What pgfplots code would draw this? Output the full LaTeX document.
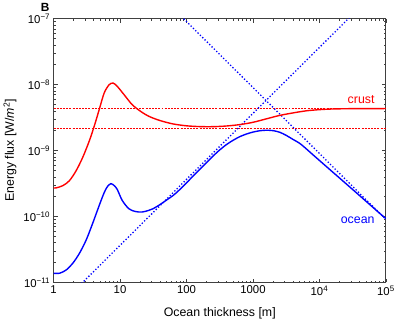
\documentclass[border=0pt]{standalone}
\usepackage{fontspec}
\setmainfont{Liberation Sans}
\usepackage{pgfplots}
\pgfplotsset{compat=1.18}
\begin{document}
\begin{tikzpicture}
\begin{axis}[
  scale only axis,
  width=335bp, height=266bp,
  xmode=log, ymode=log,
  xmin=1, xmax=1e5, ymin=1e-11, ymax=1e-7,
  xtick={1,10,100,1000,1e4,1e5},
  xticklabels={1,10,100,1000,10\textsuperscript{4},10\textsuperscript{5}},
  ytick={1e-11,1e-10,1e-9,1e-8,1e-7},
  yticklabels={10\textsuperscript{−11},10\textsuperscript{−10},10\textsuperscript{−9},10\textsuperscript{−8},10\textsuperscript{−7}},
  axis line style={black!75, line width=0.9bp},
  every tick/.style={black!75, line width=0.6bp},
  major tick length=4bp, minor tick length=2bp,
  tick label style={font=\fontsize{11.5}{12}\selectfont},
  label style={font=\fontsize{12.5}{14}\selectfont},
  xlabel={Ocean thickness [m]},
  ylabel={Energy flux [W/\textit{m}\textsuperscript{2}]},
  xlabel style={at={(axis description cs:0.5,-0.1165)}, anchor=center},
  ylabel style={at={(axis description cs:-0.131,0.5)}, anchor=center},
]
% reference lines
\addplot[red, line width=0.9bp, dash pattern=on 2bp off 1.2bp] coordinates {(1,4.33e-9) (1e5,4.33e-9)};
\addplot[red, line width=0.9bp, dash pattern=on 2bp off 1.2bp] coordinates {(1,2.14e-9) (1e5,2.14e-9)};
\addplot[blue, line width=1.3bp, dash pattern=on 1.3bp off 2bp] coordinates {(1,3.66e-12) (1e5,3.66e-7)};
\addplot[blue, line width=1.3bp, dash pattern=on 1.3bp off 2bp] coordinates {(1,9.02e-6) (1e5,9.02e-11)};
% crust
\addplot[red, line width=1.4bp, smooth] coordinates {
  (1,2.71e-10) (1.1,2.72e-10) (1.38,2.94e-10) (1.73,3.49e-10) (2.18,4.93e-10)
  (2.74,7.85e-10) (3.44,1.39e-9) (4.09,2.34e-9) (4.86,4.18e-9) (5.77,7.45e-9)
  (6.85,9.93e-9) (7.86,1.054e-8) (9.12,9.35e-9) (11.5,7.03e-9) (15.2,4.97e-9)
  (20.3,3.94e-9) (27,3.31e-9) (39.8,2.851e-9) (63.1,2.529e-9) (100,2.371e-9)
  (158.5,2.307e-9) (251.2,2.301e-9) (398.1,2.355e-9) (631,2.472e-9)
  (1000,2.679e-9) (1585,3.020e-9) (2512,3.404e-9) (3981,3.715e-9)
  (6310,3.999e-9) (10000,4.169e-9) (15850,4.266e-9) (31620,4.315e-9) (1e5,4.33e-9)
};
% ocean
\addplot[blue, line width=1.4bp, smooth] coordinates {
  (1,1.38e-11) (1.23,1.38e-11) (1.55,1.55e-11) (1.94,1.95e-11) (2.44,2.75e-11)
  (3.08,4.36e-11) (3.86,7.80e-11) (4.86,1.47e-10) (5.77,2.30e-10) (6.5,2.87e-10)
  (7.3,3.15e-10) (8.2,2.93e-10) (9.12,2.55e-10) (10.8,1.75e-10) (13.6,1.31e-10)
  (17.1,1.19e-10) (21.5,1.17e-10) (27.1,1.24e-10) (31.6,1.318e-10) (39.8,1.514e-10)
  (50.1,1.778e-10) (63.1,2.089e-10) (79.4,2.570e-10) (100,3.236e-10)
  (125.9,4.12e-10) (158.5,5.19e-10) (199.5,6.53e-10) (251.2,8.26e-10)
  (316.2,1.023e-9) (398.1,1.230e-9) (501.2,1.429e-9) (631,1.622e-9)
  (794.3,1.778e-9) (1000,1.905e-9) (1259,1.995e-9) (1585,2.032e-9)
  (1995,2.004e-9) (2512,1.897e-9) (3162,1.698e-9) (3981,1.479e-9)
  (5260,1.245e-9) (8340,8.30e-10) (13150,5.55e-10) (20800,3.71e-10)
  (33000,2.47e-10) (52000,1.65e-10) (82200,1.10e-10) (1e5,9.3e-11)
};
\node[anchor=east, red, font=\fontsize{12.5}{14}\selectfont] at (axis cs:7.6e4,5.9e-9) {crust};
\node[anchor=east, blue, font=\fontsize{12.5}{14}\selectfont] at (axis cs:7.6e4,8.65e-11) {ocean};
\end{axis}
\node[font=\fontsize{12}{13}\selectfont\bfseries] at ([xshift=-8.5bp,yshift=11.3bp]current axis.north west) {B};
\path ([xshift=-54bp,yshift=-37.7bp]current axis.south west) rectangle ([xshift=9bp,yshift=18.3bp]current axis.north east);
\end{tikzpicture}
\end{document}
